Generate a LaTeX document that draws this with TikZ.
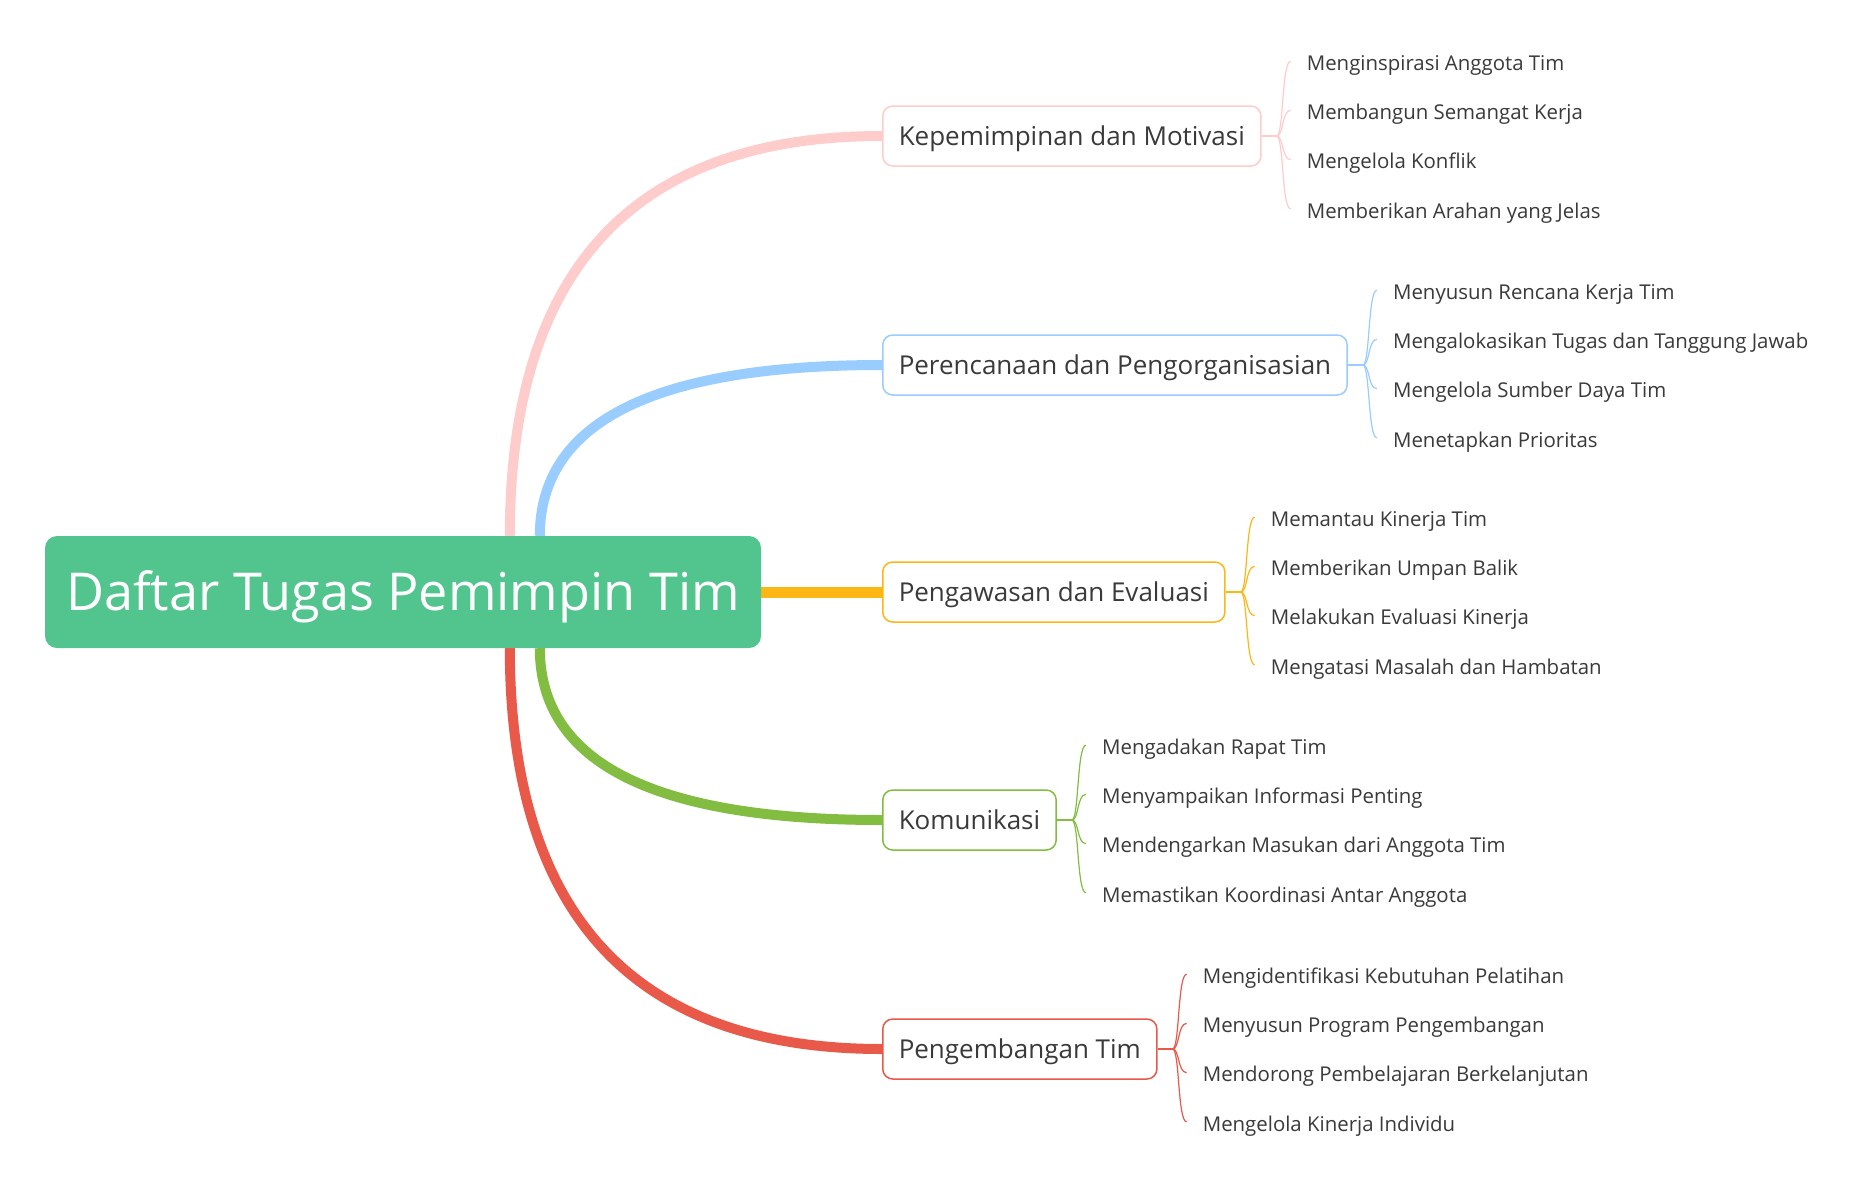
\documentclass[tikz,border=0pt]{standalone}
\usepackage{fontspec}
\setmainfont{Open Sans}
\usetikzlibrary{calc,backgrounds}
\definecolor{rootc}{HTML}{52C48D}
\definecolor{pinkc}{HTML}{FFCCCC}
\definecolor{bluec}{HTML}{99CCFF}
\definecolor{yelc}{HTML}{FDB714}
\definecolor{greenc}{HTML}{82BD41}
\definecolor{redc}{HTML}{E8594A}
\definecolor{txtc}{HTML}{3A3A3A}
\tikzset{
  rootbox/.style={fill=rootc, rounded corners=12pt, minimum width=716pt, minimum height=112pt, inner sep=0pt, text height=37.3pt, text depth=0pt, text=white, font=\fontsize{52.2}{60}\selectfont},
  branchbox/.style={draw=#1, line width=1.5pt, fill=white, rounded corners=10pt, minimum height=60pt, inner xsep=16pt, inner ysep=0pt, text height=18.6pt, text depth=0pt, anchor=west, text=txtc, font=\fontsize{26}{32}\selectfont},
  leaf/.style={anchor=west, inner sep=0pt, text height=14.6pt, text depth=0pt, text=txtc, font=\fontsize{20.4}{24}\selectfont},
  mainline/.style={draw=#1, line width=10pt},
  subline/.style={draw=#1, line width=1.2pt},
}
\newcommand{\leafgroup}[6]{%
  % #1 branch name, #2 colour, #3-#6 texts
  \coordinate (#1f) at ($(#1.east)+(15,0)$);
  \node[leaf] (#1a) at ($(#1.east)+(45,-72.8)$) {#3};
  \node[leaf] (#1b) at ($(#1.east)+(45,-23.6)$) {#4};
  \node[leaf] (#1c) at ($(#1.east)+(45,25.6)$) {#5};
  \node[leaf] (#1d) at ($(#1.east)+(45,74.8)$) {#6};
  \draw[subline=#2] (#1.east) -- (#1f);
  \foreach \s in {a,b,c,d}{
    \draw[subline=#2] (#1f) .. controls +(7,0) and +(-9,0) .. ($(#1\s.west)+(-16,-2)$);
  }
}
\begin{document}
\begin{tikzpicture}[x=1pt,y=-1pt]
\useasboundingbox (0,0) rectangle (1869,1200);
\node[rootbox] (root) at (403,592) {Daftar Tugas Pemimpin Tim};
\node[branchbox=pinkc] (b1) at (882,136) {Kepemimpinan dan Motivasi};
\node[branchbox=bluec] (b2) at (882,365) {Perencanaan dan Pengorganisasian};
\node[branchbox=yelc] (b3) at (882,592) {Pengawasan dan Evaluasi};
\node[branchbox=greenc] (b4) at (882,820) {Komunikasi};
\node[branchbox=redc] (b5) at (882,1049) {Pengembangan Tim};
\begin{pgfonlayer}{background}
\fill[white] (0,0) rectangle (1869,1200);
\draw[mainline=pinkc] ($(root.north west)+(465,0)$) .. controls (510,269) and (634,136) .. (b1.west);
\draw[mainline=bluec] ($(root.north west)+(495,0)$) .. controls (540,422) and (654,365) .. (b2.west);
\draw[mainline=yelc, line width=11pt] (root.east) -- (b3.west);
\draw[mainline=greenc] ($(root.south west)+(495,0)$) .. controls (540,763) and (654,820) .. (b4.west);
\draw[mainline=redc] ($(root.south west)+(465,0)$) .. controls (510,915) and (634,1049) .. (b5.west);
\end{pgfonlayer}
\leafgroup{b1}{pinkc}{Menginspirasi Anggota Tim}{Membangun Semangat Kerja}{Mengelola Konflik}{Memberikan Arahan yang Jelas}
\leafgroup{b2}{bluec}{Menyusun Rencana Kerja Tim}{Mengalokasikan Tugas dan Tanggung Jawab}{Mengelola Sumber Daya Tim}{Menetapkan Prioritas}
\leafgroup{b3}{yelc}{Memantau Kinerja Tim}{Memberikan Umpan Balik}{Melakukan Evaluasi Kinerja}{Mengatasi Masalah dan Hambatan}
\leafgroup{b4}{greenc}{Mengadakan Rapat Tim}{Menyampaikan Informasi Penting}{Mendengarkan Masukan dari Anggota Tim}{Memastikan Koordinasi Antar Anggota}
\leafgroup{b5}{redc}{Mengidentifikasi Kebutuhan Pelatihan}{Menyusun Program Pengembangan}{Mendorong Pembelajaran Berkelanjutan}{Mengelola Kinerja Individu}
\end{tikzpicture}
\end{document}
